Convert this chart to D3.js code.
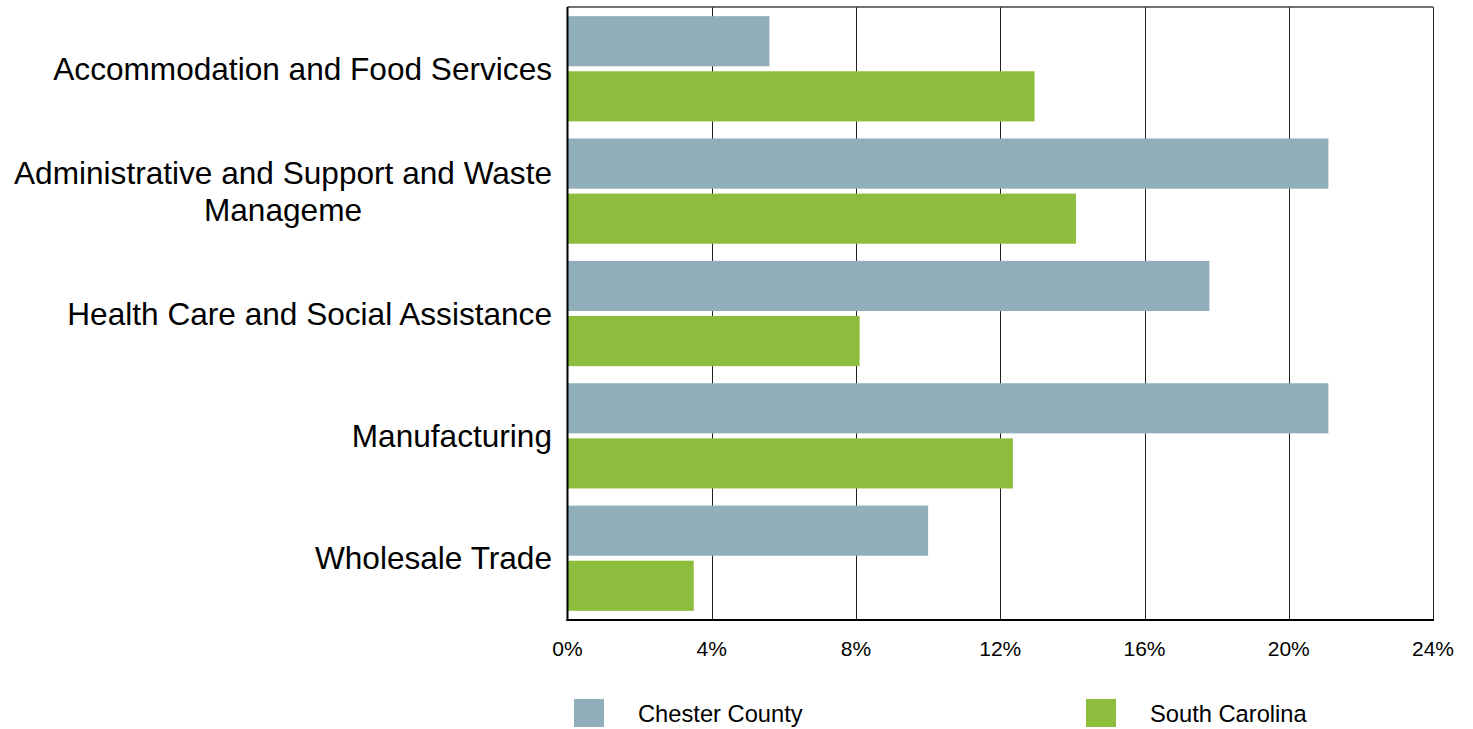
<!DOCTYPE html>
<html><head><meta charset="utf-8">
<script src="https://cdn.jsdelivr.net/npm/d3@7"></script>
<style>body{margin:0;background:#fff}svg{display:block}text{font-family:"Liberation Sans",Arial,sans-serif;fill:#000}</style>
</head><body><svg id="c" width="1473" height="729"></svg>
<script>
const categories = ["Accommodation and Food Services","Administrative and Support and Waste Manageme","Health Care and Social Assistance","Manufacturing","Wholesale Trade"];
const labelLines = [["Accommodation and Food Services"],["Administrative and Support and Waste","Manageme"],["Health Care and Social Assistance"],["Manufacturing"],["Wholesale Trade"]];
const seriesNames = ["Chester County","South Carolina"];
const chester = [5.6, 21.1, 17.8, 21.1, 10.0];
const southCarolina = [12.95, 14.1, 8.1, 12.35, 3.5];
const tickValues = [0,4,8,12,16,20,24];
const colors = ["#90afba","#8dbd3c"];

const svg = d3.select("#c");
const L=567.5, R=1433, T=7, B=620;
const x = d3.scaleLinear().domain([0,24]).range([L,R]);
const y = d3.scaleBand().domain(categories).range([T,B]).paddingInner(0.14).paddingOuter(0.075);
const sub = d3.scaleBand().domain(seriesNames).range([0,y.bandwidth()]).paddingInner(0.09);

// grid
svg.append("g").selectAll("line").data(tickValues.slice(1)).join("line")
  .attr("x1",d=>Math.round(x(d))+0.5).attr("x2",d=>Math.round(x(d))+0.5).attr("y1",T).attr("y2",B)
  .attr("stroke","#222").attr("stroke-width",1);
svg.append("line").attr("x1",L).attr("x2",R).attr("y1",T).attr("y2",T).attr("stroke","#444").attr("stroke-width",1.5);

const data = [chester, southCarolina];
categories.forEach((c,i)=>{
  seriesNames.forEach((s,j)=>{
    svg.append("rect").attr("x",x(0)).attr("y",y(c)+sub(s)).attr("width",x(data[j][i])-x(0)).attr("height",sub.bandwidth()).attr("fill",colors[j]);
  });
});

// axes lines
svg.append("line").attr("x1",L).attr("x2",L).attr("y1",T).attr("y2",B+1).attr("stroke","#000").attr("stroke-width",2);
svg.append("line").attr("x1",L-1).attr("x2",R+1).attr("y1",B).attr("y2",B).attr("stroke","#000").attr("stroke-width",2);

// x tick labels
svg.append("g").selectAll("text").data(tickValues).join("text")
  .attr("x",d=>x(d)).attr("y",656).attr("text-anchor","middle").attr("font-size",21).text(d=>d+"%");

// category labels
categories.forEach((c,i)=>{
  const lines = labelLines[i];
  const cy = y(c)+y.bandwidth()/2;
  const lh = 37;
  const g = svg.append("g");
  const t0 = g.append("text").attr("font-size",31.6).text(lines[0]);
  const w = t0.node().getComputedTextLength();
  t0.remove();
  const cx = 552 - w/2;
  lines.forEach((ln,k)=>{
    g.append("text").attr("x",lines.length>1?cx:552).attr("text-anchor",lines.length>1?"middle":"end")
      .attr("y",cy + (k-(lines.length-1)/2)*lh).attr("dy","0.35em").attr("font-size",31.6).text(ln);
  });
});

// legend
const legX = [574,1086], legTX=[638,1150];
seriesNames.forEach((s,j)=>{
  svg.append("rect").attr("x",legX[j]).attr("y",699).attr("width",30).attr("height",28).attr("fill",colors[j]);
  svg.append("text").attr("x",legTX[j]).attr("y",714).attr("dy","0.35em").attr("font-size",23.7).text(s);
});
</script></body></html>
